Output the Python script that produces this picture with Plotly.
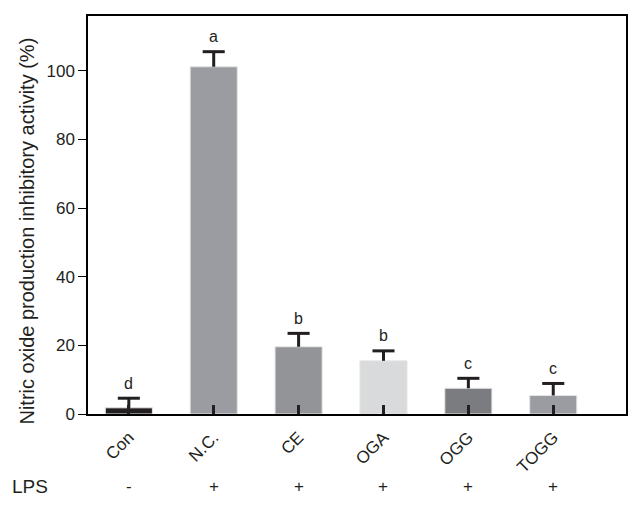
import plotly.graph_objects as go

categories = ["Con", "N.C.", "CE", "OGA", "OGG", "TOGG"]
values = [1.8, 101.2, 19.6, 15.5, 7.5, 5.4]
errors = [2.8, 4.4, 3.9, 2.9, 2.9, 3.5]
letters = ["d", "a", "b", "b", "c", "c"]
lps = ["-", "+", "+", "+", "+", "+"]
colors = ["#231f20", "#9a9ca1", "#939497", "#d9dadb", "#7b7c7f", "#9a9ca1"]

FONT = "Arial, Liberation Sans, sans-serif"
TXT = "#231f20"
CAP = 0.13  # half cap width in category units

xs = list(range(len(categories)))

fig = go.Figure()
fig.add_trace(go.Bar(
    x=xs, y=values, width=0.555,
    marker=dict(color=colors, line=dict(color="#e6e6e6", width=1)),
    showlegend=False, hoverinfo="skip",
))

# upward-only error bars (stem + top cap)
ex, ey = [], []
for i, (v, e) in enumerate(zip(values, errors)):
    ex += [i, i, None, i - CAP, i + CAP, None]
    ey += [v, v + e, None, v + e, v + e, None]
fig.add_trace(go.Scatter(x=ex, y=ey, mode="lines",
                         line=dict(color="#231f20", width=3),
                         showlegend=False, hoverinfo="skip"))

for i, (v, e, l) in enumerate(zip(values, errors, letters)):
    fig.add_annotation(x=i, y=v + e, text=l, showarrow=False, yshift=15,
                       font=dict(family=FONT, size=16, color=TXT))

for i, s in enumerate(lps):
    fig.add_annotation(x=i, y=-0.183, xref="x", yref="paper", text=s,
                       xanchor="center", yanchor="middle",
                       showarrow=False, font=dict(family=FONT, size=17, color=TXT))
fig.add_annotation(x=-0.108, y=-0.183, xref="paper", yref="paper", text="LPS",
                   xanchor="center", yanchor="middle",
                   showarrow=False, font=dict(family=FONT, size=19, color=TXT))
fig.add_annotation(x=-0.1134, y=0.461, xref="paper", yref="paper",
                   text="Nitric oxide production inhibitory activity (%)",
                   textangle=-90, showarrow=False, xanchor="center", yanchor="middle",
                   font=dict(family=FONT, size=20, color=TXT))

fig.update_layout(
    width=636, height=507,
    margin=dict(l=88, r=10, t=16, b=93, autoexpand=False),
    plot_bgcolor="white", paper_bgcolor="white",
    font=dict(family=FONT, color=TXT),
    xaxis=dict(range=[-0.481, 5.857], tickmode="array",
               tickvals=xs, ticktext=categories,
               tickangle=-45, ticks="inside", ticklen=9, tickwidth=2.5,
               tickcolor="#231f20", showline=True, linecolor="black",
               linewidth=1.5, mirror=True, showgrid=False, zeroline=False,
               automargin=False, ticklabelstandoff=5,
               tickfont=dict(family=FONT, size=17, color=TXT)),
    yaxis=dict(range=[0, 116], tickvals=[0, 20, 40, 60, 80, 100],
               ticks="outside", ticklen=8, tickwidth=1, tickcolor="black",
               showline=True, linecolor="black", linewidth=1.5, mirror=True,
               showgrid=False, zeroline=False, automargin=False,
               tickfont=dict(family=FONT, size=17, color=TXT)),
)

fig.write_html("out.html", config={"displayModeBar": False},
               post_script="document.body.style.margin='0';document.body.style.overflow='hidden';")
